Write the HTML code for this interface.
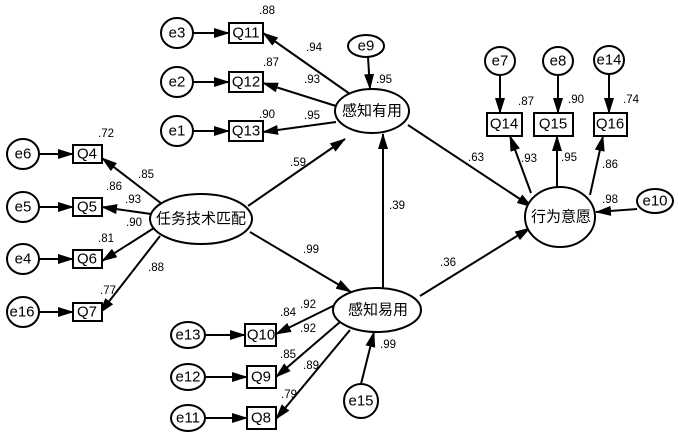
<!DOCTYPE html>
<html><head><meta charset="utf-8"><style>
html,body{margin:0;padding:0;background:#fff;}
svg{display:block;}
text{font-family:"Liberation Sans",Arial,sans-serif;fill:#000;}
.n{font-size:15px;text-anchor:middle;dominant-baseline:central;}
.c{font-family:"Liberation Serif","Noto Serif CJK SC",serif;font-size:15px;text-anchor:middle;dominant-baseline:central;}
.l{font-size:11.5px;}
</style></head><body>
<svg width="678" height="434" viewBox="0 0 678 434" xmlns="http://www.w3.org/2000/svg">
<defs><marker id="a" markerWidth="16" markerHeight="10" refX="15" refY="5" orient="auto" markerUnits="userSpaceOnUse"><path d="M0,0 L16,5 L0,10 Z" fill="#000"/></marker></defs>
<g stroke="#000" stroke-width="2" fill="none" marker-end="url(#a)">
<!-- e -> Q left top -->
<line x1="193" y1="33" x2="229" y2="33"/>
<line x1="193" y1="82" x2="229" y2="82"/>
<line x1="193" y1="131" x2="229" y2="131"/>
<line x1="39" y1="154" x2="73" y2="154"/>
<line x1="39" y1="207" x2="73" y2="207"/>
<line x1="39" y1="259" x2="73" y2="259"/>
<line x1="39" y1="312" x2="73" y2="312"/>
<line x1="205" y1="335" x2="245" y2="335"/>
<line x1="205" y1="377" x2="247" y2="377"/>
<line x1="205" y1="418" x2="247" y2="418"/>
<!-- PU -> Q11-13 -->
<line x1="350" y1="94" x2="263" y2="33"/>
<line x1="336" y1="106" x2="263" y2="83"/>
<line x1="336" y1="122" x2="263" y2="132"/>
<!-- e9 -->
<line x1="368" y1="57" x2="370" y2="89"/>
<!-- TTF -> Q4-7 -->
<line x1="162" y1="204" x2="102" y2="158"/>
<line x1="151" y1="214" x2="102" y2="207"/>
<line x1="154" y1="228" x2="102" y2="261"/>
<line x1="160" y1="236" x2="100" y2="313"/>
<!-- TTF -> PU, PEOU -->
<line x1="248" y1="206" x2="345" y2="139"/>
<line x1="250" y1="232" x2="351" y2="292"/>
<!-- PEOU -> PU -->
<line x1="383" y1="288" x2="383" y2="134"/>
<!-- PEOU -> Q10,9,8 -->
<line x1="335" y1="305" x2="276" y2="334"/>
<line x1="340" y1="322" x2="276" y2="377"/>
<line x1="350" y1="330" x2="276" y2="419"/>
<!-- e15 -->
<line x1="361" y1="384" x2="374" y2="332"/>
<!-- to BI -->
<line x1="408" y1="125" x2="532" y2="207"/>
<line x1="420" y1="296" x2="530" y2="228"/>
<line x1="637" y1="209" x2="596" y2="212"/>
<!-- BI -> Q14-16 -->
<line x1="531" y1="193" x2="510" y2="136"/>
<line x1="557" y1="187" x2="557" y2="136"/>
<line x1="590" y1="195" x2="603" y2="136"/>
<!-- e7,8,14 -->
<line x1="500" y1="75" x2="500" y2="113"/>
<line x1="558" y1="75" x2="558" y2="113"/>
<line x1="609" y1="74" x2="609" y2="113"/>
</g>
<g stroke="#000" stroke-width="2" fill="#fff">
<rect x="229" y="23" width="34" height="20"/>
<rect x="229" y="72" width="34" height="20"/>
<rect x="229" y="121" width="34" height="20"/>
<rect x="73" y="145" width="29" height="18"/>
<rect x="73" y="198" width="29" height="18"/>
<rect x="73" y="250" width="29" height="18"/>
<rect x="73" y="303" width="29" height="18"/>
<rect x="245" y="324" width="31" height="22"/>
<rect x="247" y="366" width="29" height="22"/>
<rect x="247" y="407" width="29" height="22"/>
<rect x="487" y="113" width="35" height="23"/>
<rect x="534" y="113" width="39" height="23"/>
<rect x="594" y="113" width="33" height="23"/>
<ellipse cx="177" cy="33" rx="16" ry="15"/>
<ellipse cx="177" cy="82" rx="16" ry="15"/>
<ellipse cx="177" cy="131" rx="16" ry="15"/>
<ellipse cx="23" cy="154" rx="16" ry="15"/>
<ellipse cx="23" cy="207" rx="16" ry="15"/>
<ellipse cx="23" cy="259" rx="16" ry="15"/>
<ellipse cx="23" cy="312" rx="16" ry="15"/>
<ellipse cx="188" cy="335" rx="17" ry="13"/>
<ellipse cx="188" cy="377" rx="17" ry="13"/>
<ellipse cx="188" cy="418" rx="17" ry="13"/>
<ellipse cx="361" cy="401" rx="17" ry="17"/>
<ellipse cx="366" cy="46" rx="18" ry="11"/>
<ellipse cx="500" cy="61" rx="15" ry="14"/>
<ellipse cx="558" cy="61" rx="15" ry="14"/>
<ellipse cx="609" cy="60" rx="15" ry="14"/>
<ellipse cx="655" cy="201" rx="18" ry="12"/>
<ellipse cx="372" cy="111" rx="37" ry="22"/>
<ellipse cx="201" cy="219" rx="51" ry="25"/>
<ellipse cx="377" cy="310" rx="44" ry="22"/>
<ellipse cx="560" cy="217" rx="35" ry="30"/>
</g>
<g class="n">
<text x="246" y="33">Q11</text><text x="246" y="82">Q12</text><text x="246" y="131">Q13</text>
<text x="87" y="154">Q4</text><text x="87" y="207">Q5</text><text x="87" y="259">Q6</text><text x="87" y="312">Q7</text>
<text x="261" y="335">Q10</text><text x="261" y="377">Q9</text><text x="261" y="418">Q8</text>
<text x="504" y="124">Q14</text><text x="553" y="124">Q15</text><text x="610" y="124">Q16</text>
<text x="177" y="33">e3</text><text x="177" y="82">e2</text><text x="177" y="131">e1</text>
<text x="23" y="154">e6</text><text x="23" y="207">e5</text><text x="23" y="259">e4</text><text x="22" y="312">e16</text>
<text x="188" y="335">e13</text><text x="188" y="377">e12</text><text x="188" y="418">e11</text>
<text x="361" y="401">e15</text><text x="366" y="46">e9</text>
<text x="500" y="61">e7</text><text x="558" y="61">e8</text><text x="609" y="60">e14</text><text x="655" y="201">e10</text>
</g>
<g class="c">
<text x="372" y="111">感知有用</text>
<text x="201" y="219">任务技术匹配</text>
<text x="378" y="310">感知易用</text>
<text x="561" y="217">行为意愿</text>
</g>
<g class="l">
<text x="259" y="14">.88</text><text x="263" y="66">.87</text><text x="259" y="118">.90</text>
<text x="306" y="51">.94</text><text x="304" y="83">.93</text><text x="304" y="119">.95</text>
<text x="376" y="83">.95</text>
<text x="98" y="137">.72</text><text x="138" y="178">.85</text><text x="106" y="190">.86</text><text x="125" y="203">.93</text>
<text x="126" y="226">.90</text><text x="98" y="242">.81</text><text x="148" y="271">.88</text><text x="100" y="294">.77</text>
<text x="290" y="166">.59</text><text x="303" y="253">.99</text><text x="389" y="209">.39</text>
<text x="280" y="316">.84</text><text x="300" y="308">.92</text><text x="300" y="332">.92</text>
<text x="280" y="358">.85</text><text x="303" y="369">.89</text><text x="281" y="398">.79</text><text x="380" y="348">.99</text>
<text x="468" y="161">.63</text><text x="440" y="266">.36</text>
<text x="518" y="105">.87</text><text x="568" y="103">.90</text><text x="623" y="103">.74</text>
<text x="521" y="162">.93</text><text x="561" y="161">.95</text><text x="602" y="168">.86</text><text x="602" y="203">.98</text>
</g>
</svg>
</body></html>
